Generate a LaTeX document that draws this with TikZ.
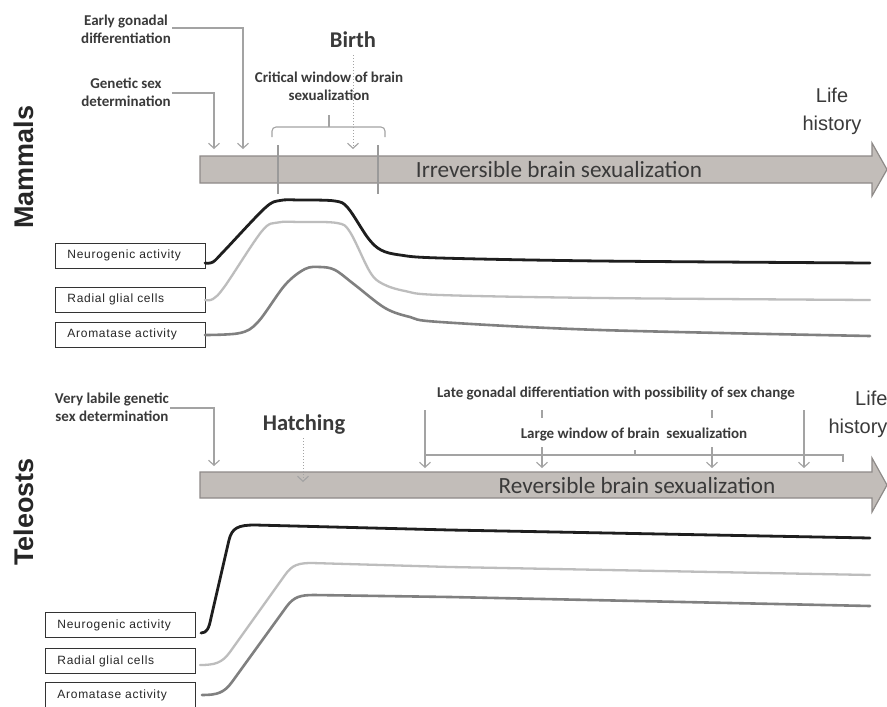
\documentclass[tikz,border=0pt]{standalone}
\usepackage{fontspec}
\setmainfont{Carlito}
\newfontfamily\arialf{Liberation Sans}
\newfontfamily\boxf[LetterSpace=6]{Liberation Sans}
\usetikzlibrary{arrows.meta}
\definecolor{txt}{HTML}{3A3A3A}
\definecolor{annot}{HTML}{A3A3A3}
\definecolor{arrfill}{HTML}{C2BDB9}
\definecolor{arredge}{HTML}{8E8A88}
\definecolor{lgray}{HTML}{BDBDBD}
\definecolor{dgray}{HTML}{808080}
\definecolor{blk}{HTML}{1E1E1E}
\definecolor{tickc}{HTML}{9A9A9A}
\begin{document}
\begin{tikzpicture}[x=1pt,y=-1pt,
  lbl/.style={text=txt, font=\fontsize{15}{18}\selectfont\bfseries, align=center, inner sep=1pt},
  big/.style={text=txt, font=\fontsize{22.5}{26}\selectfont\bfseries, inner sep=0pt},
  arrtext/.style={text=txt, font=\fontsize{23.2}{26}\selectfont, inner sep=0pt},
  life/.style={text=txt, font=\arialf\fontsize{20}{28}\selectfont, inner sep=0pt},
  group/.style={text=black!85, font=\arialf\bfseries\fontsize{27}{30}\selectfont, rotate=90, inner sep=0pt},
  curvebox/.style={draw=black!80, line width=0.9pt, fill=white, minimum height=25pt,
     text width=126pt, inner xsep=12pt, inner ysep=0pt, align=left,
     font=\boxf\fontsize{12}{14}\selectfont, text=black!85},
  bigarrow/.style={fill=arrfill, draw=arredge, line width=1.2pt, line join=miter},
  annline/.style={draw=annot, line width=1.1pt},
  chev/.style={-{Straight Barb[length=5pt,width=11pt,line width=1.1pt]}},
  dotl/.style={draw=annot, line width=1pt, dotted},
  tick/.style={draw=tickc, line width=2pt},
  ncurve/.style={draw=blk, line width=2.8pt, line cap=round, line join=round},
  rcurve/.style={draw=lgray, line width=2.3pt, line cap=round, line join=round},
  acurve/.style={draw=dgray, line width=2.6pt, line cap=round, line join=round}
]
\useasboundingbox[fill=white] (0,0) rectangle (887,707);

% ================= MAMMALS =================
\node[group] (mam) at (24,167) {Mammals};

\draw[bigarrow] (200,156) -- (872,156) -- (872,143) -- (887,169.5) -- (872,196) -- (872,183) -- (200,183) -- cycle;
\node[arrtext] (irr) at (559,170) {Irreversible brain sexualization};

\node[life, align=center] (life1) at (832,111) {Life\\history};

\node[lbl] (egd) at (126,29) {Early gonadal\\differentiation};
\node[lbl] (gsd) at (126,92) {Genetic sex\\determination};
\node[big] (birth) at (353,40) {Birth};
\node[lbl] (crit) at (329,86) {Critical window of brain\\sexualization};

\coordinate (egdend) at (243,149);
\coordinate (gsdend) at (214,149);
\draw[annline, chev] (egd.east |- 0,28) -- (243,28) -- (egdend);
\draw[annline, chev] (gsd.east |- 0,93) -- (214,93) -- (gsdend);
\coordinate (birthtop) at (353,55);
\coordinate (birthend) at (353,149);
\draw[dotl, chev] (birthtop) -- (birthend);

% brace
\coordinate (brl) at (272,137);
\coordinate (brr) at (385,137);
\coordinate (brm) at (329,115);
\draw[annline, rounded corners=4pt] (brl) -- (272,127) -- (385,127) -- (brr);
\draw[annline] (329,127) -- (brm);

% window ticks
\coordinate (t1a) at (278,145); \coordinate (t1b) at (278,194);
\coordinate (t2a) at (378,145); \coordinate (t2b) at (378,194);
\draw[tick] (t1a) -- (t1b);
\draw[tick] (t2a) -- (t2b);

% boxes
\node[curvebox, anchor=west] (mneu) at (55,255.5) {Neurogenic activity};
\node[curvebox, anchor=west] (mrad) at (55,299.5) {Radial glial cells};
\node[curvebox, anchor=west] (maro) at (55,334.5) {Aromatase activity};

% curves
\draw[rcurve] plot[smooth, tension=0.55] coordinates {(205,300) (213,299) (225,286) (262,231) (278,222.5) (300,222) (337,223) (350,232) (370,272) (383,284) (405,291) (440,295) (600,298) (870,300)};
\draw[acurve] plot[smooth, tension=0.55] coordinates {(205,335) (240,333) (258,322) (285,285) (305,269) (320,267) (335,270) (355,285) (385,308) (410,317) (440,322) (600,330) (870,336)};
\draw[ncurve] plot[smooth, tension=0.55] coordinates {(205,263) (213,262) (225,250) (265,208) (280,200.5) (300,200) (335,201) (348,208) (368,238) (381,250) (400,255) (440,258) (600,261) (870,263)};

% ================= TELEOSTS =================
\node[group] (tel) at (24,512) {Teleosts};

\draw[bigarrow] (200,472) -- (872,472) -- (872,458) -- (887,485) -- (872,512) -- (872,498) -- (200,498) -- cycle;
\node[arrtext] (rev) at (637,486) {Reversible brain sexualization};

\node[life, align=right] (life2) at (858,414) {Life\\history};

\node[lbl] (vlg) at (112,407.5) {Very labile genetic\\sex determination};
\node[big] (hatch) at (304,425) {Hatching};
\node[lbl] (late) at (616,393) {Late gonadal differentiation with possibility of sex change};
\node[lbl] (large) at (634,434) {Large window of brain~~sexualization};

\coordinate (vlgend) at (214,466);
\draw[annline, chev] (vlg.east |- 0,408) -- (214,408) -- (vlgend);
\coordinate (hattop) at (303,438);
\coordinate (hatend) at (303,482);
\draw[dotl, chev] (hattop) -- (hatend);

% bracket and arrows
\coordinate (la) at (425,410); \coordinate (lae) at (425,468);
\coordinate (ra) at (804,410); \coordinate (rae) at (804,468);
\draw[annline, chev] (la) -- (lae);
\draw[annline, chev] (ra) -- (rae);
\draw[annline] (425,455) -- (843,455) -- (843,462);
\draw[annline] (635,455) -- (635,450);
\coordinate (m1a) at (542,410); \coordinate (m1b) at (542,418);
\coordinate (m2a) at (712,410); \coordinate (m2b) at (712,418);
\draw[annline] (m1a) -- (m1b);
\draw[annline] (m2a) -- (m2b);
\coordinate (m1c) at (542,447); \coordinate (m1d) at (542,468);
\coordinate (m2c) at (712,447); \coordinate (m2d) at (712,468);
\draw[annline, chev] (m1c) -- (m1d);
\draw[annline, chev] (m2c) -- (m2d);

% boxes
\node[curvebox, anchor=west] (tneu) at (45,625) {Neurogenic activity};
\node[curvebox, anchor=west] (trad) at (45,661) {Radial glial cells};
\node[curvebox, anchor=west] (taro) at (45,695) {Aromatase activity};

% curves
\draw[rcurve] (200,665) .. controls (215,665) and (222,663) .. (230,652) -- (285,575) .. controls (292,565) and (298,563) .. (312,563) -- (450,567) -- (870,575);
\draw[acurve] (202,695) .. controls (217,695) and (224,693) .. (232,682) -- (287,606) .. controls (294,597) and (300,595) .. (314,595) -- (450,597) -- (870,606);
\draw[ncurve] (201,633) .. controls (207,633) and (209,628) .. (211,618) -- (229,540) .. controls (232,528) and (238,525) .. (255,525) -- (450,530) -- (870,538);
\end{tikzpicture}
\end{document}
